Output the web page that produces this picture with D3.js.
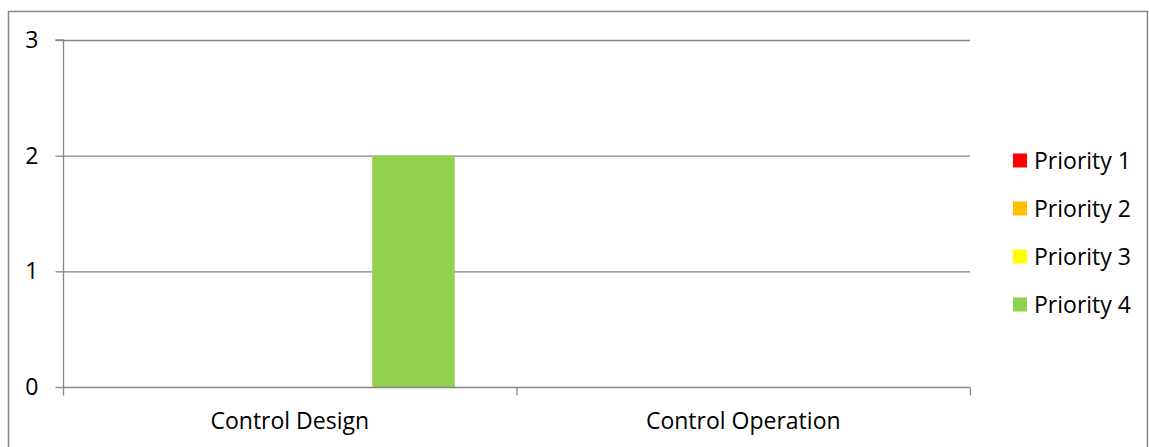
<!DOCTYPE html>
<html><head><meta charset="utf-8">
<script src="https://cdn.jsdelivr.net/npm/d3@7"></script>
<style>html,body{margin:0;padding:0;background:#fff;}svg{display:block;}</style>
</head><body>
<script>
const categories = ["Control Design", "Control Operation"];
const seriesNames = ["Priority 1", "Priority 2", "Priority 3", "Priority 4"];
const seriesColors = ["#FF0000", "#FFC000", "#FFFF00", "#92D050"];
const priority1 = [0, 0];
const priority2 = [0, 0];
const priority3 = [0, 0];
const priority4 = [2, 0];
const yTicks = [0, 1, 2, 3];

(function () {
const seriesValues = [priority1, priority2, priority3, priority4];
const W = 1149, H = 447;
const font = "'Open Sans', sans-serif";
const fs = 23;
const gridColor = "#868686";

const svg = d3.select("body").append("svg").attr("width", W).attr("height", H);

// outer border
svg.append("rect").attr("x", 8.5).attr("y", 11.5).attr("width", 1139).attr("height", 460)
  .attr("fill", "none").attr("stroke", gridColor).attr("stroke-width", 1.5);

const pLeft = 63, pRight = 970, pTop = 40, pBottom = 387;
const x0 = d3.scaleBand().domain(categories).range([pLeft, pRight]).padding(0);
const x1 = d3.scaleBand().domain(seriesNames).range([0, x0.bandwidth()]).paddingInner(0).paddingOuter(0.75);
const y = d3.scaleLinear().domain([0, 3]).range([pBottom, pTop]);

// gridlines
svg.append("g").selectAll("line").data(yTicks.filter(d => d > 0)).join("line")
  .attr("x1", pLeft).attr("x2", pRight)
  .attr("y1", d => y(d) + 0.5).attr("y2", d => y(d) + 0.5)
  .attr("stroke", gridColor).attr("stroke-width", 1.3);

// bars
const rows = [];
categories.forEach((c, i) => seriesNames.forEach((s, j) => rows.push({c, s, v: seriesValues[j][i], color: seriesColors[j]})));
svg.append("g").selectAll("rect").data(rows.filter(d => d.v > 0)).join("rect")
  .attr("x", d => x0(d.c) + x1(d.s))
  .attr("width", x1.bandwidth())
  .attr("y", d => y(d.v))
  .attr("height", d => y(0) - y(d.v))
  .attr("fill", d => d.color);

// y axis
const yAxis = svg.append("g").attr("transform", `translate(${pLeft + 0.5},0)`)
  .call(d3.axisLeft(y).tickValues(yTicks).tickSize(8).tickPadding(17).tickFormat(d3.format("d")));
yAxis.select(".domain").attr("stroke", gridColor).attr("stroke-width", 1.3).attr("d", `M-8,${pTop}H0V${pBottom}`);
yAxis.selectAll(".tick line").attr("stroke", gridColor).attr("stroke-width", 1.3);
yAxis.selectAll(".tick text").attr("font-family", font).attr("font-size", fs).attr("fill", "#000");

// x axis
const xAxis = svg.append("g").attr("transform", `translate(0,${pBottom + 0.5})`)
  .call(d3.axisBottom(x0).tickSize(0));
xAxis.select(".domain").attr("stroke", gridColor).attr("stroke-width", 1.3).attr("d", `M${pLeft},0H${pRight}`);
xAxis.selectAll(".tick text").attr("font-family", font).attr("font-size", fs).attr("fill", "#000")
  .attr("y", 41).attr("dy", null);
// category boundary ticks
const bounds = [pLeft, pLeft + x0.step(), pRight];
xAxis.append("g").selectAll("line").data(bounds).join("line")
  .attr("x1", d => d + 0.5).attr("x2", d => d + 0.5).attr("y1", 0).attr("y2", 8)
  .attr("stroke", gridColor).attr("stroke-width", 1.3);

// legend
const legend = svg.append("g").attr("transform", "translate(1013,0)");
const ly = [160.5, 208.5, 256.5, 304.5];
const items = legend.selectAll("g").data(seriesNames).join("g")
  .attr("transform", (d, i) => `translate(0,${ly[i]})`);
items.append("rect").attr("x", 0).attr("y", -7).attr("width", 14).attr("height", 14)
  .attr("fill", (d, i) => seriesColors[i]);
items.append("text").attr("x", 21).attr("y", 0).attr("dy", "0.35em")
  .attr("font-family", font).attr("font-size", fs).attr("fill", "#000").text(d => d);
})();
</script>
</body></html>
